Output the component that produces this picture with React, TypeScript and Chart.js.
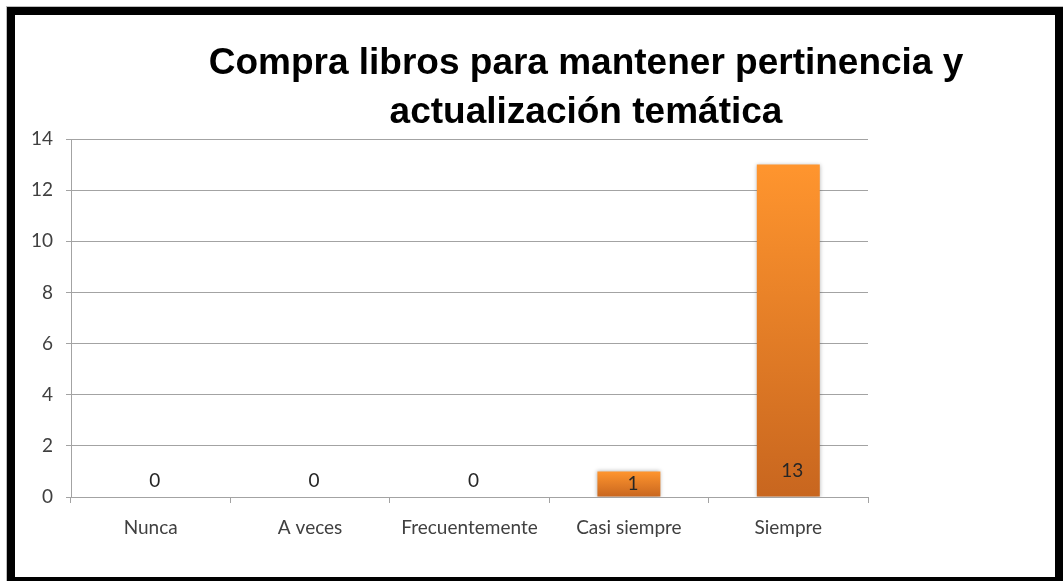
import React, { useEffect, useRef } from "react";
import { Chart, registerables } from "chart.js";

Chart.register(...registerables);

const categories = ["Nunca", "A veces", "Frecuentemente", "Casi siempre", "Siempre"];
const values = [0, 0, 0, 1, 13];
const yTicks = [0, 2, 4, 6, 8, 10, 12, 14];
const titleLines = ["Compra libros para mantener pertinencia y", "actualización temática"];

const W = 1063;
const H = 581;
const TICK_FONT = { family: "Lato, 'Noto Sans', sans-serif", size: 19 };
const GRID = "#a3a3a3";

const titlePlugin = {
  id: "customTitle",
  afterDraw(chart: any) {
    const ctx = chart.ctx;
    ctx.save();
    ctx.fillStyle = "#000";
    ctx.font = "bold 37px 'Liberation Sans', Arial, sans-serif";
    ctx.textAlign = "center";
    ctx.textBaseline = "alphabetic";
    ctx.fillText(titleLines[0], 586, 74);
    ctx.fillText(titleLines[1], 586, 123);
    ctx.restore();
  },
};

const barLabelPlugin = {
  id: "barLabels",
  beforeDatasetsDraw(chart: any) {
    const ctx = chart.ctx;
    ctx.save();
    ctx.shadowColor = "rgba(0,0,0,0.3)";
    ctx.shadowBlur = 4;
  },
  afterDatasetsDraw(chart: any) {
    const ctx = chart.ctx;
    ctx.restore();
    const meta = chart.getDatasetMeta(0);
    ctx.save();
    ctx.fillStyle = "#262626";
    ctx.font = "19px Lato, 'Noto Sans', sans-serif";
    ctx.textAlign = "center";
    ctx.textBaseline = "middle";
    meta.data.forEach((bar: any, i: number) => {
      const p = bar.getProps(["x", "y", "base"], true);
      const h = p.base - p.y;
      let cy: number;
      if (h >= 40) cy = p.base - 25.5;
      else if (h > 0) cy = p.base - h / 2;
      else cy = p.base - 16.5;
      ctx.fillText(String(values[i]), p.x + 4, cy);
    });
    ctx.restore();
  },
};

function barFill(c: any) {
  const chart = c.chart;
  const ys = chart.scales && chart.scales.y;
  if (!ys || c.type !== "data") return "#F08A2C";
  const top = ys.getPixelForValue(c.raw);
  const base = ys.getPixelForValue(0);
  if (!isFinite(top) || !isFinite(base) || Math.abs(base - top) < 1) return "#F08A2C";
  const g = chart.ctx.createLinearGradient(0, top, 0, base);
  g.addColorStop(0, "#FF952E");
  g.addColorStop(1, "#C8661F");
  return g;
}

export default function App() {
  const ref = useRef<HTMLCanvasElement | null>(null);

  useEffect(() => {
    if (!ref.current) return;
    const chart = new Chart(ref.current, {
      type: "bar",
      data: {
        labels: categories,
        datasets: [
          {
            data: values,
            backgroundColor: barFill as any,
            borderWidth: 0,
            categoryPercentage: 1,
            barPercentage: 0.395,
          },
        ],
      },
      options: {
        responsive: false,
        animation: false,
        layout: { padding: { top: 139, right: 195, left: 0, bottom: 0 } },
        plugins: {
          legend: { display: false },
          tooltip: { enabled: false },
          title: { display: false },
        },
        scales: {
          x: {
            grid: {
              display: true,
              drawOnChartArea: false,
              drawTicks: true,
              tickLength: 6,
              color: GRID,
              offset: true,
            },
            border: { color: GRID },
            ticks: { font: TICK_FONT, color: "#404040", padding: 13 },
            afterFit: (s: any) => {
              s.height = 84;
            },
          },
          y: {
            min: 0,
            max: 14,
            ticks: { stepSize: 2, font: TICK_FONT, color: "#404040", padding: 13 },
            afterBuildTicks: (s: any) => {
              s.ticks = yTicks.map((v) => ({ value: v }));
            },
            grid: { color: GRID, tickLength: 5 },
            border: { color: GRID },
            afterFit: (s: any) => {
              s.width = 71;
            },
          },
        },
      },
      plugins: [titlePlugin, barLabelPlugin],
    });
    return () => chart.destroy();
  }, []);

  return (
    <div
      style={{
        position: "absolute",
        left: 0,
        top: 0,
        width: W,
        height: H,
        overflow: "hidden",
        background: "#fff",
      }}
    >
      <canvas ref={ref} width={W} height={H} style={{ position: "absolute", left: 0, top: 0, width: W, height: H }} />
      <div
        style={{
          position: "absolute",
          left: 7,
          top: 7,
          width: 1056,
          height: 578,
          border: "8px solid #000",
          boxSizing: "border-box",
          boxShadow: "0 0 0 1px #bdbdbd",
          pointerEvents: "none",
        }}
      />
    </div>
  );
}
